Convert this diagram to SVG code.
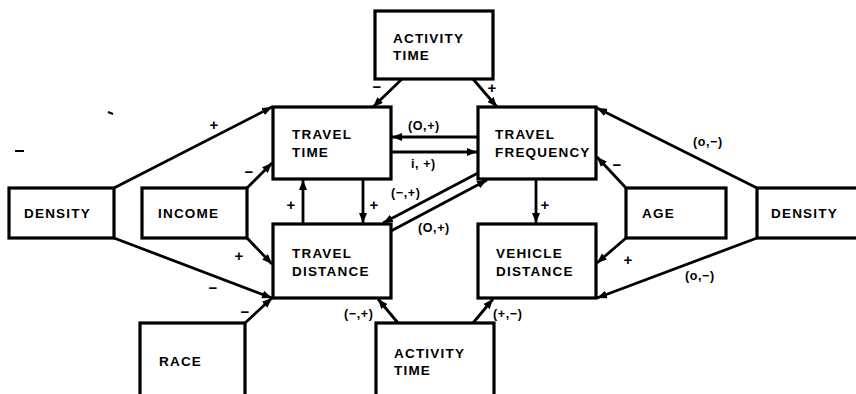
<svg xmlns="http://www.w3.org/2000/svg" width="856" height="394" viewBox="0 0 856 394">
<defs>
<style>
.box{fill:#fff;stroke:#000;stroke-width:3.2}
.t{font-family:"Liberation Sans",Arial,sans-serif;font-weight:bold;font-size:13.5px;letter-spacing:1.2px;fill:#000}
.l{font-family:"Liberation Sans",Arial,sans-serif;font-weight:bold;font-size:12.5px;letter-spacing:0.6px;fill:#000}
.s{font-family:"Liberation Sans",Arial,sans-serif;font-weight:bold;font-size:15px;fill:#000;text-anchor:middle}
.c{stroke:#000;stroke-width:2.8;fill:none;marker-end:url(#ah)}
.m{stroke:#000;stroke-width:2;fill:none}
</style>
<marker id="ah" markerUnits="userSpaceOnUse" markerWidth="11" markerHeight="8" refX="10" refY="4" orient="auto">
<path d="M0,0 L10,4 L0,8 z" fill="#000"/>
</marker>
</defs>
<rect width="856" height="394" fill="#fff"/>
<g id="connectors">
<line class="c" x1="114" y1="188" x2="272" y2="107"/>
<line class="c" x1="114" y1="238" x2="272" y2="298"/>
<line class="c" x1="247" y1="188" x2="272" y2="163"/>
<line class="c" x1="247" y1="238" x2="272" y2="264"/>
<line class="c" x1="245" y1="323" x2="272" y2="298"/>
<line class="c" x1="402" y1="79" x2="373" y2="107"/>
<line class="c" x1="473" y1="79" x2="497" y2="107"/>
<line class="c" x1="478" y1="137" x2="392" y2="137"/>
<line class="c" x1="391" y1="152" x2="477" y2="152"/>
<line class="c" x1="478" y1="173" x2="383" y2="223"/>
<line class="c" x1="391" y1="231" x2="487" y2="180"/>
<line class="c" x1="363" y1="179" x2="363" y2="223"/>
<line class="c" x1="303" y1="224" x2="303" y2="180"/>
<line class="c" x1="536" y1="179" x2="536" y2="223"/>
<line class="c" x1="626" y1="188" x2="597" y2="157"/>
<line class="c" x1="757" y1="188" x2="597" y2="108"/>
<line class="c" x1="626" y1="238" x2="597" y2="263"/>
<line class="c" x1="757" y1="238" x2="597" y2="298"/>
<line class="c" x1="398" y1="323" x2="378" y2="299"/>
<line class="c" x1="473" y1="323" x2="493" y2="299"/>
</g>
<g id="labels">
<text class="s" x="214" y="130">+</text>
<text class="s" x="249" y="177">−</text>
<text class="s" x="239" y="261">+</text>
<text class="s" x="213" y="293">−</text>
<text class="s" x="245" y="317">−</text>
<text class="s" x="377" y="92">−</text>
<text class="s" x="492" y="93">+</text>
<text class="l" x="408" y="130">(O,+)</text>
<text class="l" x="411" y="168">i,  +)</text>
<text class="l" x="391" y="197">(−,+)</text>
<text class="l" x="418" y="232">(O,+)</text>
<text class="s" x="291" y="210">+</text>
<text class="s" x="374" y="210">+</text>
<text class="s" x="545" y="210">+</text>
<text class="s" x="617" y="170">−</text>
<text class="l" x="693" y="146">(o,−)</text>
<text class="s" x="628" y="265">+</text>
<text class="l" x="685" y="280">(o,−)</text>
<text class="l" x="344" y="318">(−,+)</text>
<text class="l" x="493" y="318">(+,−)</text>
<line class="m" x1="15" y1="151" x2="24" y2="151"/>
<line class="m" x1="108" y1="112" x2="113" y2="114"/>
<line class="m" x1="376" y1="157" x2="387" y2="157"/>
</g>
<g id="activity-time-top">
<rect class="box" x="375" y="11" width="118" height="68"/>
<text class="t" x="393" y="43">ACTIVITY</text>
<text class="t" x="393" y="60">TIME</text>
</g>
<g id="travel-time">
<rect class="box" x="273" y="107" width="118" height="72"/>
<text class="t" x="292" y="139">TRAVEL</text>
<text class="t" x="292" y="157">TIME</text>
</g>
<g id="travel-frequency">
<rect class="box" x="478" y="107" width="118" height="72"/>
<text class="t" x="495" y="139">TRAVEL</text>
<text class="t" x="495" y="157">FREQUENCY</text>
</g>
<g id="density-left">
<rect class="box" x="9" y="188" width="105" height="50"/>
<text class="t" x="24" y="218">DENSITY</text>
</g>
<g id="income">
<rect class="box" x="142" y="188" width="105" height="50"/>
<text class="t" x="158" y="218">INCOME</text>
</g>
<g id="travel-distance">
<rect class="box" x="273" y="224" width="118" height="74"/>
<text class="t" x="292" y="258">TRAVEL</text>
<text class="t" x="292" y="276">DISTANCE</text>
</g>
<g id="vehicle-distance">
<rect class="box" x="478" y="224" width="118" height="74"/>
<text class="t" x="496" y="258">VEHICLE</text>
<text class="t" x="496" y="276">DISTANCE</text>
</g>
<g id="age">
<rect class="box" x="626" y="188" width="100" height="50"/>
<text class="t" x="642" y="218">AGE</text>
</g>
<g id="density-right">
<rect class="box" x="757" y="188" width="110" height="50"/>
<text class="t" x="771" y="218">DENSITY</text>
</g>
<g id="race">
<rect class="box" x="140" y="323" width="105" height="80"/>
<text class="t" x="159" y="366">RACE</text>
</g>
<g id="activity-time-bottom">
<rect class="box" x="376" y="323" width="118" height="80"/>
<text class="t" x="394" y="358">ACTIVITY</text>
<text class="t" x="394" y="375">TIME</text>
</g>
</svg>
